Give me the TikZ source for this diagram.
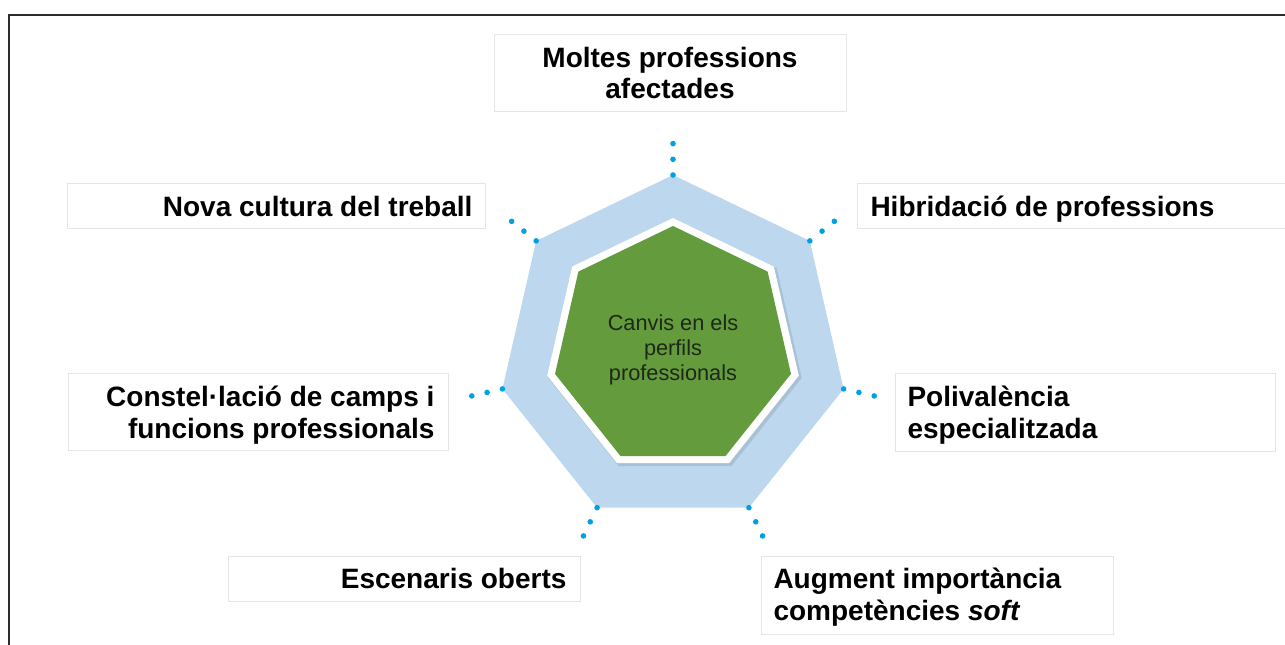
\documentclass[tikz,border=0pt]{standalone}
\usepackage{fontspec}
\setmainfont{Liberation Sans}

\tikzset{every picture/.style={line width=0.75pt}}
\tikzset{
  boxline/.style={draw={rgb, 255:red, 229; green, 229; blue, 229}, fill=white, line width=0.75},
  bigtext/.style={font=\fontsize{21}{23.5}\selectfont\bfseries, inner sep=0pt, text=black},
  dotblue/.style={fill={rgb, 255:red, 0; green, 160; blue, 228}},
}

\begin{document}
\begin{tikzpicture}[x=0.75pt,y=0.75pt,yscale=-1,xscale=1]
\useasboundingbox (0,0) rectangle (1285,644);

%Frame
\draw [color={rgb, 255:red, 45; green, 45; blue, 45 }, line width=1.5] (9,650) -- (9,15) -- (1290,15) ;

%Outer heptagon
\fill [fill={rgb, 255:red, 189; green, 215; blue, 238 }, shift={(673,350)}] (-90:175) \foreach \k in {1,...,6}{ -- (-90+\k*360/7:175)} -- cycle ;
%Shadow of inner heptagon
\fill [black, opacity=0.1, shift={(675,349)}] (-90:130) \foreach \k in {1,...,6}{ -- (-90+\k*360/7:130)} -- cycle ;
%White rim
\fill [white, shift={(673,347)}] (-90:129) \foreach \k in {1,...,6}{ -- (-90+\k*360/7:129)} -- cycle ;
%Green heptagon
\fill [fill={rgb, 255:red, 99; green, 155; blue, 61 }, shift={(673,347)}] (-90:121) \foreach \k in {1,...,6}{ -- (-90+\k*360/7:121)} -- cycle ;

%Dots at the corners
\begin{scope}[shift={(673,350)}]
\foreach \k in {0,...,6}
  \foreach \r in {175,190.7,206.4}
    \fill [dotblue] (-90+\k*360/7:\r) circle (2.8) ;
\end{scope}

%Boxes
\draw [boxline] (494,34) rectangle (846,111) ;
\draw [boxline] (67,183) rectangle (485,228) ;
\draw [boxline] (857,183) rectangle (1290,228) ;
\draw [boxline] (68,373) rectangle (448,450) ;
\draw [boxline] (895,373) rectangle (1275,451) ;
\draw [boxline] (228,556) rectangle (580,601) ;
\draw [boxline] (761,556) rectangle (1113,634) ;

% Text Node
\node (core) at (673,350) [align=center, font=\fontsize{16.3}{18.75}\selectfont, text={rgb, 255:red, 30; green, 40; blue, 25 }] {Canvis en els\\perfils\\professionals};
% Text Node
\node (moltes) at (670,73) [bigtext, align=center] {Moltes professions\\afectades};
% Text Node
\node (nova) at (473,216) [bigtext, anchor=base east] {Nova cultura del treball};
% Text Node
\node (hibrid) at (870,216) [bigtext, anchor=base west] {Hibridació de professions};
% Text Node
\node (constel) at (435,415) [bigtext, anchor=east, align=right] {Constel·lació de camps i\\funcions professionals};
% Text Node
\node (poli) at (907,415) [bigtext, anchor=west, align=left] {Polivalència\\especialitzada};
% Text Node
\node (escen) at (567,588) [bigtext, anchor=base east] {Escenaris oberts};
% Text Node
\node (augm) at (773,597) [bigtext, anchor=west, align=left] {Augment importància\\competències \textit{soft}};

\end{tikzpicture}
\end{document}
